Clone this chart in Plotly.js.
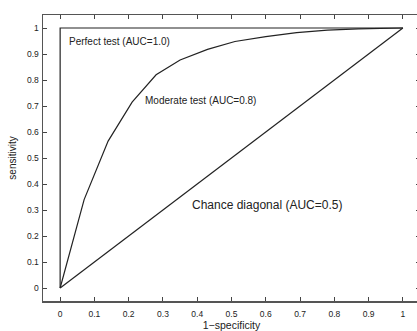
<!DOCTYPE html>
<html>
<head>
<meta charset="utf-8">
<script src="https://cdn.plot.ly/plotly-3.0.1.min.js"></script>
<style>
html,body{margin:0;padding:0;overflow:hidden;background:#fff;}
#chart{width:420px;height:331px;}
</style>
</head>
<body>
<div id="chart"></div>
<script>
var perfectX = [0, 0, 1];
var perfectY = [0, 1, 1];
var chanceX = [0, 1];
var chanceY = [0, 1];
var moderateX = [0, 0.07, 0.14, 0.21, 0.28, 0.35, 0.43, 0.51, 0.6, 0.69, 0.78, 0.87, 1];
var moderateY = [0, 0.34, 0.565, 0.715, 0.82, 0.877, 0.918, 0.948, 0.967, 0.982, 0.992, 0.997, 1];
var tickVals = [0, 0.1, 0.2, 0.3, 0.4, 0.5, 0.6, 0.7, 0.8, 0.9, 1];
var tickText = ['0', '0.1', '0.2', '0.3', '0.4', '0.5', '0.6', '0.7', '0.8', '0.9', '1'];
var labels = ['Perfect test (AUC=1.0)', 'Moderate test (AUC=0.8)', 'Chance diagonal (AUC=0.5)'];

var lineStyle = {color: '#222', width: 1.2};
var traces = [
  {x: perfectX, y: perfectY, mode: 'lines', line: lineStyle, hoverinfo: 'none'},
  {x: moderateX, y: moderateY, mode: 'lines', line: lineStyle, hoverinfo: 'none'},
  {x: chanceX, y: chanceY, mode: 'lines', line: lineStyle, hoverinfo: 'none'}
];

var FONT = 'Liberation Sans, Arial, sans-serif';
var axisCommon = {
  range: [-0.05, 1.05],
  tickvals: tickVals,
  ticktext: tickText,
  ticks: 'inside',
  ticklen: 4,
  tickwidth: 1,
  tickcolor: '#444',
  showline: true,
  linecolor: '#555',
  linewidth: 1.5,
  mirror: 'ticks',
  showgrid: false,
  zeroline: false,
  tickfont: {family: FONT, size: 8.5, color: '#222'}
};

var layout = {
  width: 420,
  height: 331,
  margin: {l: 43, r: 0, t: 15, b: 30},
  paper_bgcolor: '#fff',
  plot_bgcolor: '#fff',
  showlegend: false,
  xaxis: Object.assign({}, axisCommon, {
    ticklabelstandoff: 4,
    title: {text: '1\u2212specificity', font: {family: FONT, size: 10.5, color: '#222'}, standoff: 9}
  }),
  yaxis: Object.assign({}, axisCommon, {
    ticklabelstandoff: 1,
    title: {text: 'sensitivity', font: {family: FONT, size: 10, color: '#222'}, standoff: 8}
  }),
  annotations: [
    {x: 0.02, y: 0.95, xref: 'x', yref: 'y', text: labels[0], showarrow: false, xanchor: 'left', yanchor: 'middle',
     font: {family: FONT, size: 10, color: '#222'}},
    {x: 0.242, y: 0.72, xref: 'x', yref: 'y', text: labels[1], showarrow: false, xanchor: 'left', yanchor: 'middle',
     font: {family: FONT, size: 10, color: '#222'}},
    {x: 0.379, y: 0.32, xref: 'x', yref: 'y', text: labels[2], showarrow: false, xanchor: 'left', yanchor: 'middle',
     font: {family: FONT, size: 12, color: '#222'}}
  ]
};

Plotly.newPlot('chart', traces, layout, {staticPlot: true, displayModeBar: false});
</script>
</body>
</html>
